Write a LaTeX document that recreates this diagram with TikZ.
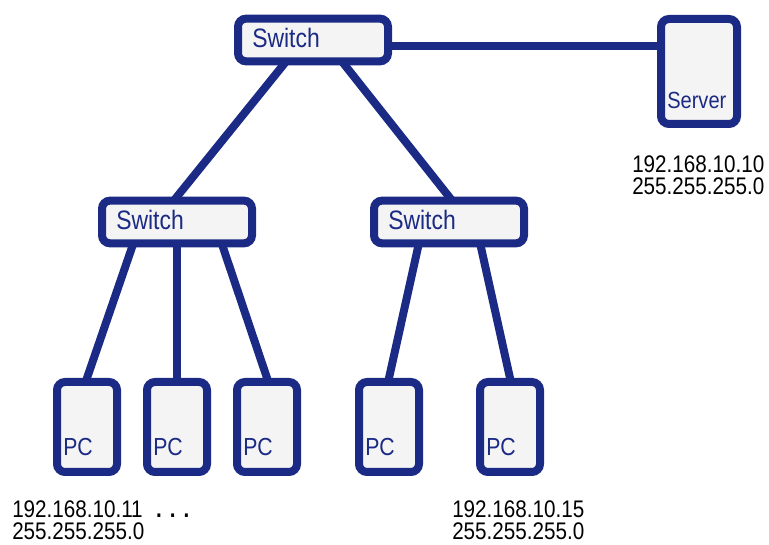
\documentclass[tikz,border=0pt]{standalone}
\usepackage{fontspec}
\setmainfont{Liberation Sans}
\newfontfamily\netfont[FakeStretch=0.86]{Liberation Sans}
\usetikzlibrary{calc,backgrounds}
\definecolor{netblue}{RGB}{27,42,132}
\definecolor{boxgray}{RGB}{244,244,244}

\begin{document}
\begin{tikzpicture}[x=0.75pt,y=-0.75pt,
  device/.style={draw=netblue,fill=boxgray,line width=6pt,rounded corners=6pt,inner sep=0pt},
  switchbox/.style={device,minimum width=112.5pt,minimum height=32pt},
  serverbox/.style={device,minimum width=57pt,minimum height=78.75pt},
  pcbox/.style={device,minimum width=45pt,minimum height=67.5pt},
  devname/.style={anchor=base west,inner sep=0pt,text=netblue},
  link/.style={draw=netblue,line width=6pt,shorten <=-4pt,shorten >=-4pt},
  addr/.style={anchor=base west,inner sep=0pt,align=left,font=\netfont\fontsize{18}{17}\selectfont}]

  %\draw[step=50,gray,very thin] (0,0) grid (769,545);
  \useasboundingbox (0,0) rectangle (769,545);

  %switches and server
  \node[switchbox] (top) at (313,40) {};
  \node[switchbox] (swl) at (177,222) {};
  \node[switchbox] (swr) at (449,222) {};
  \node[serverbox] (server) at (699,71.5) {};

  %pcs
  \node[pcbox] (pc1) at (87,427) {};
  \node[pcbox] (pc2) at (177,427) {};
  \node[pcbox] (pc3) at (267,427) {};
  \node[pcbox] (pc4) at (389,427) {};
  \node[pcbox] (pc5) at (510,427) {};

  %names
  \node[devname,font=\netfont\fontsize{20}{24}\selectfont] (topname) at ([shift={(13.5pt,13.5pt)}]top.south west) {Switch};
  \node[devname,font=\netfont\fontsize{20}{24}\selectfont] (swlname) at ([shift={(13.5pt,13pt)}]swl.south west) {Switch};
  \node[devname,font=\netfont\fontsize{20}{24}\selectfont] (swrname) at ([shift={(13.5pt,13pt)}]swr.south west) {Switch};
  \node[devname,font=\netfont\fontsize{17.5}{21}\selectfont] (servername) at ([shift={(7.5pt,14.25pt)}]server.south west) {Server};
  \node[devname,font=\netfont\fontsize{18.5}{22}\selectfont] (pc1name) at ([shift={(7.5pt,15pt)}]pc1.south west) {PC};
  \node[devname,font=\netfont\fontsize{18.5}{22}\selectfont] (pc2name) at ([shift={(7.5pt,15pt)}]pc2.south west) {PC};
  \node[devname,font=\netfont\fontsize{18.5}{22}\selectfont] (pc3name) at ([shift={(7.5pt,15pt)}]pc3.south west) {PC};
  \node[devname,font=\netfont\fontsize{18.5}{22}\selectfont] (pc4name) at ([shift={(7.5pt,15pt)}]pc4.south west) {PC};
  \node[devname,font=\netfont\fontsize{18.5}{22}\selectfont] (pc5name) at ([shift={(7.5pt,15pt)}]pc5.south west) {PC};

  %links
  \begin{scope}[on background layer]
    \coordinate (tap) at ($(top.east)+(0,6)$);
    \draw[link] (tap) -- (tap -| server.west);
    \draw[link] ($(top.south)+(-30,0)$) -- (swl.north);
    \draw[link] ($(top.south)+(32,0)$) -- (swr.north);
    \draw[link] ($(swl.south)+(-45,0)$) -- (pc1.north);
    \draw[link] (swl.south) -- (pc2.north);
    \draw[link] ($(swl.south)+(46,0)$) -- (pc3.north);
    \draw[link] ($(swr.south)+(-31,0)$) -- (pc4.north);
    \draw[link] ($(swr.south)+(32,0)$) -- (pc5.north);
  \end{scope}

  %addresses (base is the last line)
  \node[addr] (serveraddr) at (632,195) {192.168.10.10\\255.255.255.0};
  \node[addr] (firstaddr) at (12,540) {192.168.10.11\hspace{10pt}\textbf{.\hspace{6pt}.\hspace{6pt}.}\\255.255.255.0};
  \node[addr] (lastaddr) at (452,540) {192.168.10.15\\255.255.255.0};

\end{tikzpicture}
\end{document}
